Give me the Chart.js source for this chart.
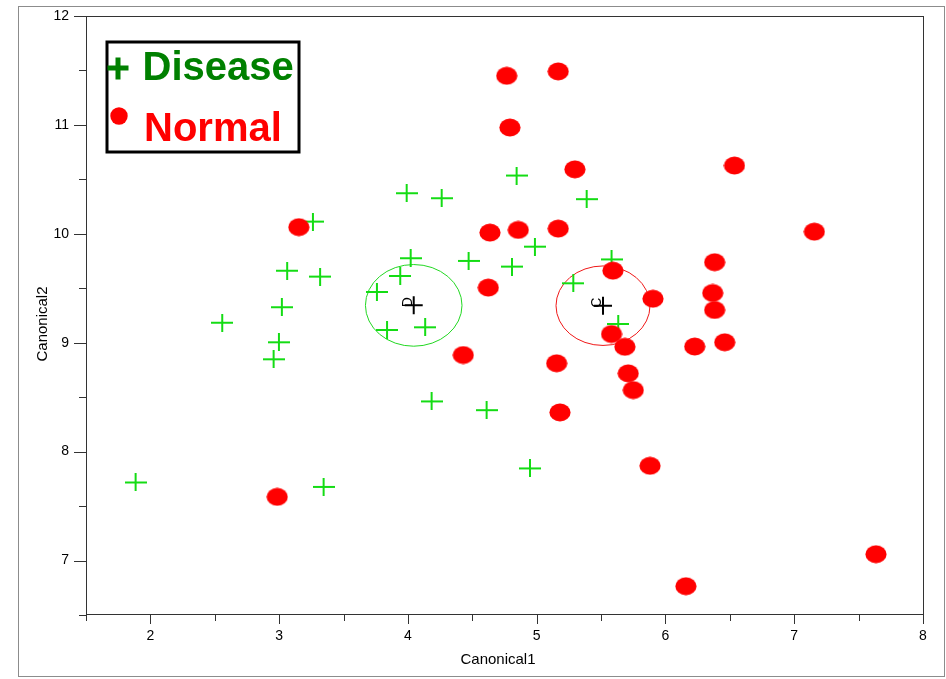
<!DOCTYPE html>
<html>
<head>
<meta charset="utf-8">
<title>Canonical plot</title>
<script src="https://cdn.jsdelivr.net/npm/chart.js@4.4.1/dist/chart.umd.min.js"></script>
<style>
  html, body { margin: 0; padding: 0; background: #fff; }
  #wrap { position: relative; width: 946px; height: 679px; }
</style>
</head>
<body>
<div id="wrap"><canvas id="canonChart" width="946" height="679"></canvas></div>
<script>
const diseaseX = [1.885, 2.558, 2.957, 2.998, 3.021, 3.062, 3.262, 3.318, 3.345, 3.759, 3.838, 3.940, 3.990, 4.021,
  4.134, 4.184, 4.262, 4.471, 4.611, 4.808, 4.844, 4.986, 4.948, 5.284, 5.388, 5.581, 5.633];
const diseaseY = [7.717, 9.184, 8.848, 9.004, 9.326, 9.661, 10.112, 9.607, 7.676, 9.466, 9.117, 9.613, 10.373, 9.776,
  9.142, 8.461, 10.327, 9.751, 8.381, 9.699, 10.535, 9.882, 7.846, 9.546, 10.318, 9.765, 9.172];

const normalX = [2.985, 3.153, 4.430, 4.624, 4.637, 4.767, 4.792, 4.857, 5.155, 5.167, 5.167, 5.181, 5.297, 5.581, 5.592,
  5.685, 5.711, 5.750, 5.880, 5.903, 6.159, 6.227, 6.367, 6.382, 6.382, 6.460, 6.536, 7.156, 7.635];
const normalY = [7.585, 10.061, 8.887, 9.506, 10.011, 11.451, 10.976, 10.036, 8.811, 10.048, 11.491, 8.360, 10.592, 9.080, 9.662,
  8.963, 8.719, 8.565, 7.870, 9.404, 6.764, 8.965, 9.457, 9.739, 9.301, 9.004, 10.627, 10.020, 7.058];

const centroidLabels = ["D", "C"];
const centroidX = [4.045, 5.515];
const centroidY = [9.343, 9.340];
const centroidR = [0.375, 0.365];

const xTicks = [2, 3, 4, 5, 6, 7, 8];
const xMinorTicks = [1.5, 2.5, 3.5, 4.5, 5.5, 6.5, 7.5];
const yTicks = [7, 8, 9, 10, 11, 12];
const yMinorTicks = [6.5, 7.5, 8.5, 9.5, 10.5, 11.5];

const FONT = "'Liberation Sans', Arial, sans-serif";
const GREEN = "#14dc14";
const RED = "#ff0000";
const AXIS = "#333";

// point images
const crossImg = document.createElement("canvas");
crossImg.width = 22;
crossImg.height = 18;
{
  const c = crossImg.getContext("2d");
  c.fillStyle = GREEN;
  c.fillRect(0, 8, 22, 2);
  c.fillRect(10, 0, 2, 18);
}
const dotImg = document.createElement("canvas");
dotImg.width = 22;
dotImg.height = 19;
{
  const c = dotImg.getContext("2d");
  c.fillStyle = RED;
  c.beginPath();
  c.ellipse(11, 9.5, 10.6, 9, 0, 0, Math.PI * 2);
  c.fill();
}

const toPoints = (xs, ys) => xs.map((x, i) => ({ x, y: ys[i] }));

const framePlugin = {
  id: "frame",
  beforeDraw(chart) {
    const ctx = chart.ctx;
    ctx.save();
    ctx.fillStyle = "#fff";
    ctx.fillRect(0, 0, chart.width, chart.height);
    ctx.strokeStyle = "#8c8c8c";
    ctx.lineWidth = 1;
    ctx.strokeRect(18.5, 6.5, 926, 670);
    ctx.restore();
  },
  beforeDatasetsDraw(chart) {
    const { ctx, scales } = chart;
    const xs = scales.x;
    const ys = scales.y;
    ctx.save();
    centroidX.forEach((cx, i) => {
      const px = xs.getPixelForValue(cx);
      const py = ys.getPixelForValue(centroidY[i]);
      const rx = Math.abs(xs.getPixelForValue(cx + centroidR[i]) - px);
      const ry = Math.abs(ys.getPixelForValue(centroidY[i] + centroidR[i]) - py);
      ctx.strokeStyle = i === 0 ? "#22d822" : "#f01818";
      ctx.lineWidth = 1;
      ctx.beginPath();
      ctx.ellipse(px, py, rx, ry, 0, 0, Math.PI * 2);
      ctx.stroke();
    });
    ctx.restore();
  },
  afterDraw(chart) {
    const { ctx, chartArea, scales } = chart;
    const { left, right, top, bottom } = chartArea;
    ctx.save();
    // axes box
    ctx.strokeStyle = AXIS;
    ctx.lineWidth = 1;
    ctx.strokeRect(left + 0.5, top + 0.5, right - left, bottom - top - 1);
    // ticks
    ctx.beginPath();
    xTicks.forEach((v) => {
      const p = Math.round(scales.x.getPixelForValue(v)) + 0.5;
      ctx.moveTo(p, bottom - 0.5);
      ctx.lineTo(p, bottom + 9);
    });
    xMinorTicks.forEach((v) => {
      const p = Math.round(scales.x.getPixelForValue(v)) + 0.5;
      ctx.moveTo(p, bottom - 0.5);
      ctx.lineTo(p, bottom + 6);
    });
    yTicks.forEach((v) => {
      const p = Math.round(scales.y.getPixelForValue(v)) + 0.5;
      ctx.moveTo(left + 0.5, p);
      ctx.lineTo(left - 12, p);
    });
    yMinorTicks.forEach((v) => {
      const p = Math.round(scales.y.getPixelForValue(v)) + 0.5;
      ctx.moveTo(left + 0.5, p);
      ctx.lineTo(left - 7, p);
    });
    ctx.stroke();

    // axis titles
    ctx.fillStyle = "#000";
    ctx.font = `15px ${FONT}`;
    ctx.textAlign = "center";
    ctx.textBaseline = "alphabetic";
    ctx.fillText("Canonical1", 498, 664);
    ctx.save();
    ctx.translate(46.5, 324);
    ctx.rotate(-Math.PI / 2);
    ctx.fillText("Canonical2", 0, 0);
    ctx.restore();

    // centroid labels
    const meta = chart.getDatasetMeta(2);
    ctx.font = `14px ${FONT}`;
    ctx.textAlign = "left";
    meta.data.forEach((pt, i) => {
      ctx.save();
      ctx.translate(pt.x - 2, pt.y + 2);
      ctx.rotate(-Math.PI / 2);
      ctx.fillText(centroidLabels[i], 0, 0);
      ctx.restore();
    });

    // legend
    ctx.fillStyle = "#fff";
    ctx.fillRect(107, 42, 192, 110);
    ctx.strokeStyle = "#000";
    ctx.lineWidth = 3;
    ctx.strokeRect(107, 42, 192, 110);
    ctx.fillStyle = "#008000";
    ctx.fillRect(107.5, 65.5, 21, 5);
    ctx.fillRect(115.5, 57.5, 5, 22);
    ctx.font = `bold 40px ${FONT}`;
    ctx.textAlign = "left";
    ctx.fillText("Disease", 142.5, 79.5);
    ctx.fillStyle = RED;
    ctx.beginPath();
    ctx.arc(119, 116, 8.7, 0, Math.PI * 2);
    ctx.fill();
    ctx.fillText("Normal", 144, 140.5);
    ctx.restore();
  },
};

new Chart(document.getElementById("canonChart"), {
  type: "scatter",
  data: {
    datasets: [
      {
        label: "Normal",
        data: toPoints(normalX, normalY),
        pointStyle: dotImg,
        order: 0,
      },
      {
        label: "Disease",
        data: toPoints(diseaseX, diseaseY),
        pointStyle: crossImg,
        order: 1,
      },
      {
        label: "Centroid",
        data: toPoints(centroidX, centroidY),
        pointStyle: "cross",
        pointRadius: 9,
        borderColor: "#000",
        borderWidth: 2,
        order: 2,
      },
    ],
  },
  options: {
    responsive: false,
    animation: false,
    devicePixelRatio: 1,
    events: [],
    layout: { padding: { top: 16, right: 23, left: 0, bottom: 0 } },
    plugins: {
      legend: { display: false },
      tooltip: { enabled: false },
    },
    scales: {
      x: {
        type: "linear",
        min: 1.5,
        max: 8,
        afterBuildTicks: (s) => {
          s.ticks = xTicks.map((v) => ({ value: v }));
        },
        afterFit: (s) => {
          s.height = 64;
          s.paddingLeft = 0;
          s.paddingRight = 0;
        },
        grid: { display: false, drawTicks: false },
        border: { display: false },
        ticks: {
          color: "#000",
          font: { family: FONT, size: 14 },
          padding: 13,
          maxRotation: 0,
          autoSkip: false,
        },
      },
      y: {
        type: "linear",
        min: 6.5,
        max: 12,
        afterBuildTicks: (s) => {
          s.ticks = yTicks.map((v) => ({ value: v }));
        },
        afterFit: (s) => {
          s.width = 86;
          s.paddingTop = 0;
          s.paddingBottom = 0;
        },
        grid: { display: false, drawTicks: false },
        border: { display: false },
        ticks: {
          color: "#000",
          font: { family: FONT, size: 14 },
          padding: 17,
          autoSkip: false,
        },
      },
    },
  },
  plugins: [framePlugin],
});
</script>
</body>
</html>
